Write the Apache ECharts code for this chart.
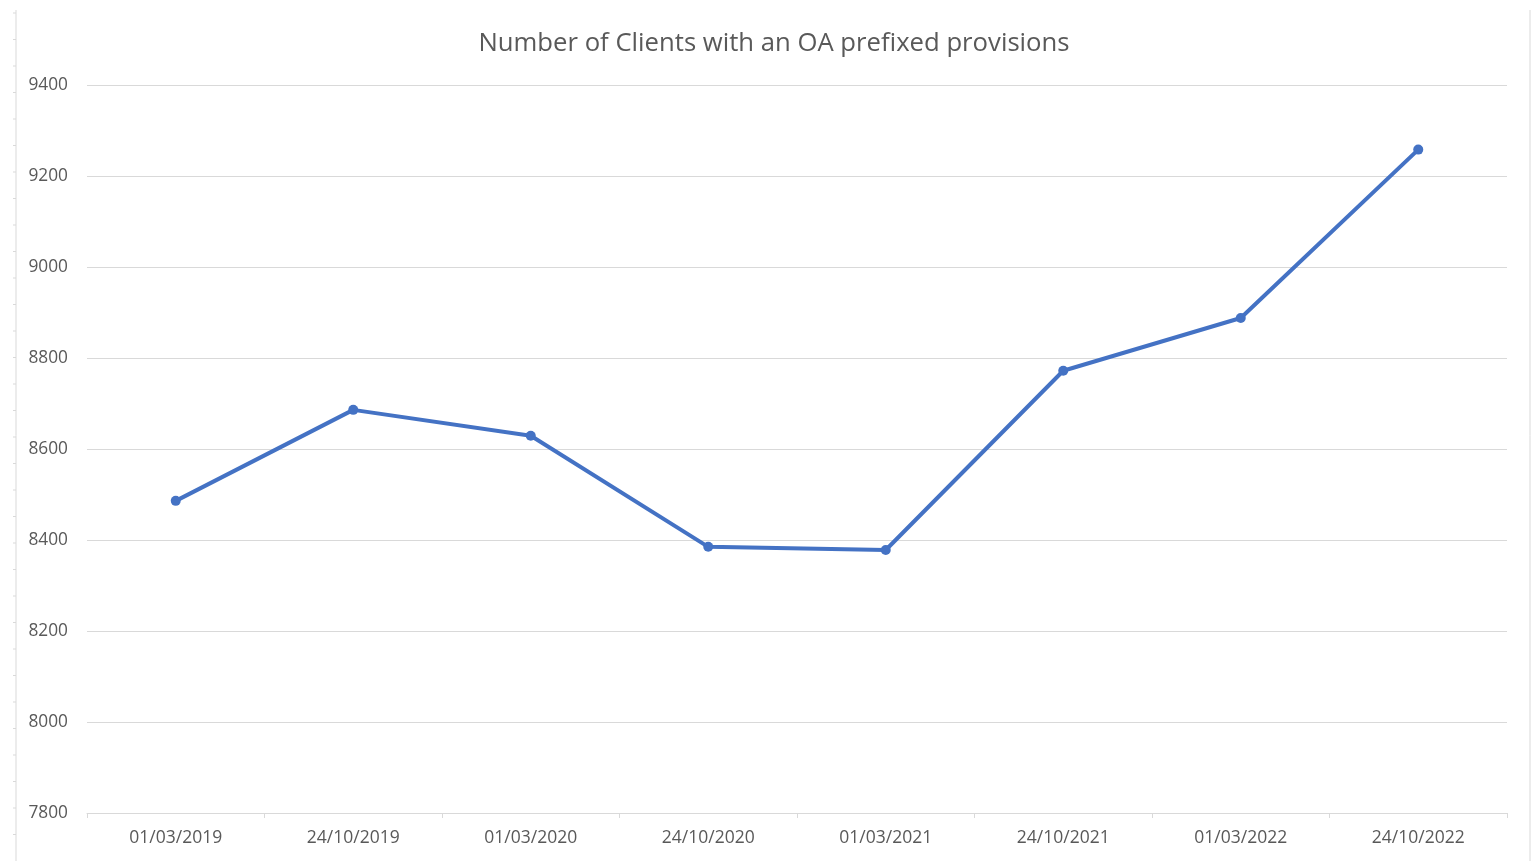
<!DOCTYPE html>
<html>
<head>
<meta charset="utf-8">
<script src="https://cdn.jsdelivr.net/npm/echarts@6/dist/echarts.min.js"></script>
<style>
    html, body { margin: 0; padding: 0; background: #fff; }
    #chart { width: 1537px; height: 861px; }
</style>
</head>
<body>
<div id="chart"></div>
<script>
    // 数据
    const dates = ['01/03/2019', '24/10/2019', '01/03/2020', '24/10/2020', '01/03/2021', '24/10/2021', '01/03/2022', '24/10/2022'];
    const clients = [8486, 8686, 8629, 8385, 8378, 8772, 8888, 9258];

    const chart = echarts.init(document.getElementById('chart'));
    const font = '"Open Sans", "Noto Sans", sans-serif';

    // spreadsheet frame on the sides
    const frame = [
        { type: 'line', shape: { x1: 16, y1: 10, x2: 16, y2: 861 }, style: { stroke: '#d9d9d9', lineWidth: 1 } },
        { type: 'line', shape: { x1: 1530, y1: 10, x2: 1530, y2: 861 }, style: { stroke: '#d9d9d9', lineWidth: 1 } }
    ];
    for (let y = 13; y < 861; y += 26.5) {
        frame.push({ type: 'line', shape: { x1: 13, y1: y, x2: 16, y2: y }, style: { stroke: '#d9d9d9', lineWidth: 1 } });
    }

    const option = {
        animation: false,
        title: {
            text: 'Number of Clients with an OA prefixed provisions',
            left: 769,
            textAlign: 'center',
            top: 26,
            textStyle: { color: '#595959', fontSize: 25.7, fontWeight: 'normal', fontFamily: font }
        },
        grid: { left: 87, right: 30, top: 85, bottom: 48 },
        xAxis: {
            type: 'category',
            data: dates,
            boundaryGap: true,
            axisLine: { lineStyle: { color: '#d9d9d9', width: 1 } },
            axisTick: { show: true, length: 5, lineStyle: { color: '#d9d9d9' } },
            axisLabel: { color: '#595959', fontSize: 17.5, margin: 16, fontFamily: font }
        },
        yAxis: {
            type: 'value',
            min: 7800,
            max: 9400,
            interval: 200,
            axisLine: { show: false },
            axisTick: { show: false },
            axisLabel: { color: '#595959', fontSize: 17.3, margin: 19, fontFamily: font, formatter: v => String(v) },
            splitLine: { lineStyle: { color: '#d9d9d9', width: 1 } }
        },
        series: [
            {
                type: 'line',
                data: clients,
                symbol: 'circle',
                symbolSize: 10,
                lineStyle: { color: '#4472C4', width: 4 },
                itemStyle: { color: '#4472C4' }
            }
        ],
        graphic: frame
    };

    chart.setOption(option);
</script>
</body>
</html>
